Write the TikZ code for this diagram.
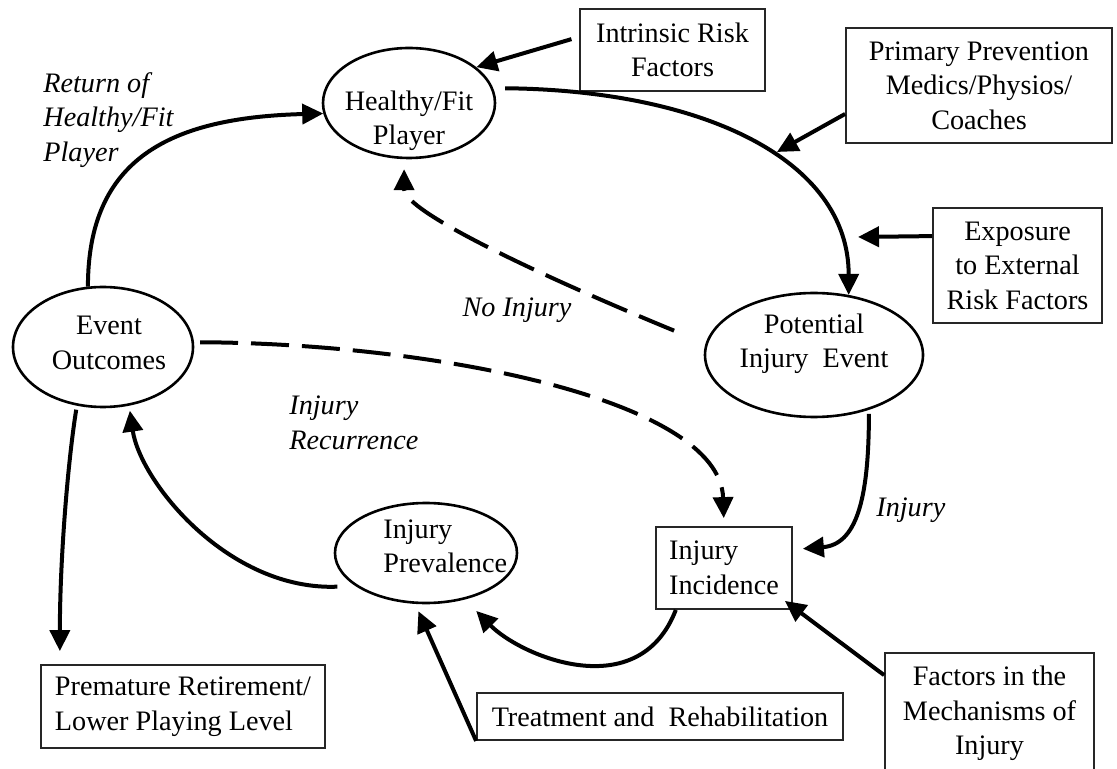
\documentclass[tikz,border=0pt]{standalone}
\usepackage{fontspec}
\setmainfont{Liberation Serif}
\usetikzlibrary{arrows.meta,shapes.geometric}

\begin{document}
\begin{tikzpicture}[x=0.5pt,y=-0.5pt,
  every node/.style={font=\fontsize{14.1pt}{17.25pt}\selectfont, inner sep=0pt},
  ell/.style={ellipse, draw, line width=1.3pt},
  box/.style={rectangle, draw=black!85, line width=0.9pt, align=center},
  lbl/.style={font=\fontsize{14.1pt}{17.25pt}\selectfont\itshape, align=left},
  arr/.style={line width=2pt, -{Triangle[length=10.5pt,width=10pt]}},
  dasharr/.style={arr, dash pattern=on 19pt off 6.5pt}]

\useasboundingbox (0,0) rectangle (1117,769);
\fill[white] (0,0) rectangle (1117,769);
\clip (0,0) rectangle (1117,769);

% ellipses of the cycle
\node[ell, minimum width=86pt, minimum height=55pt] (healthy) at (409,103) {};
\node (healthytxt) at (409,120.6) [align=center] {Healthy/Fit\\Player};

\node[ell, minimum width=109pt, minimum height=62pt] (potential) at (814,355) {};
\node (potentialtxt) at (814,343.7) [align=center] {Potential\\Injury\ \ Event};

\node[ell, minimum width=90pt, minimum height=60pt] (event) at (103,347) {};
\node (eventtxt) at (109,343) [align=center] {Event\\Outcomes};

\node[ell, minimum width=91pt, minimum height=50pt] (prev) at (426,553) {};
\node (prevtxt) [anchor=west, align=left] at (383,546.5) {Injury\\Prevalence};

% boxes
\node[box, minimum width=92.5pt, minimum height=41pt] (intrinsic) at (672.5,50) {Intrinsic Risk\\Factors};
\node[box, minimum width=133pt, minimum height=57.5pt] (primary) at (979,85.5) {Primary Prevention\\Medics/Physios/\\Coaches};
\node[box, minimum width=84.5pt, minimum height=57.5pt] (exposure) at (1017.5,265.5) {Exposure\\to External\\Risk Factors};
\node[box, minimum width=68pt, minimum height=41pt, align=left] (incidence) at (724,568) {Injury\\Incidence};
\node[box, minimum width=104.5pt, minimum height=60.5pt] (factors) at (989.5,713.5) {Factors in the\\Mechanisms of\\Injury};
\node[box, minimum width=183pt, minimum height=23.5pt] (treatment) at (660,716.5) {Treatment and\ \ Rehabilitation};
\node[box, minimum width=142pt, minimum height=41.5pt, align=left] (premature) at (183,706.5) {Premature Retirement/\\Lower Playing Level};

% italic path labels
\node[lbl, anchor=west] (returnlbl) at (43,120) {Return of\\Healthy/Fit\\Player};
\node[lbl] (noinjlbl) at (517,310.4) {No Injury};
\node[lbl, anchor=west] (recurlbl) at (289,423) {Injury\\Recurrence};
\node[lbl, anchor=west] (injlbl) at (876,510) {Injury};

% free ends of the influence arrows
\coordinate (pptip) at (777,152);
\coordinate (exptip) at (858,237);

% main cycle
\draw[arr, shorten <=6pt] (healthy.10) .. controls +(208,2) and +(0,-136) .. (potential.60);
\draw[arr, shorten <=2pt, shorten >=5pt] (potential.-45) .. controls +(0,91) and +(63,-5) .. (incidence.15);
\draw[arr, shorten >=8pt] (incidence.221) .. controls +(-37,96) and +(56,57) .. (prev.-50);
\draw[arr, shorten <=9pt, shorten >=2.5pt] (prev.205) .. controls +(-127,5) and +(11,76) .. (event.-66);
\draw[arr] (event.104) .. controls +(0,-128) and +(-153,4) .. (healthy.187);
\draw[arr, shorten <=2pt, shorten >=6.5pt] (event.246) .. controls +(-9,56) and +(0,-105) .. (premature.161);

% dashed alternatives
\draw[dasharr, shorten <=17pt, shorten >=5pt] (potential.174) .. controls +(-170,-70) and +(0,52) .. (healthy.265);
\draw[dasharr, shorten <=3pt, shorten >=4pt] (event.3) .. controls +(237,1) and +(-4,-127) .. (incidence.north);

% influencing factors
\draw[arr, shorten <=4pt] (intrinsic.172) -- (healthy.28);
\draw[arr] (primary.192) -- (pptip);
\draw[arr] (exposure.161) -- (exptip);
\draw[arr] (factors.160) -- ([shift={(-8,-9)}]incidence.south east);
\draw[arr, shorten >=4pt] (treatment.south west) -- (prev.258);

\end{tikzpicture}
\end{document}
